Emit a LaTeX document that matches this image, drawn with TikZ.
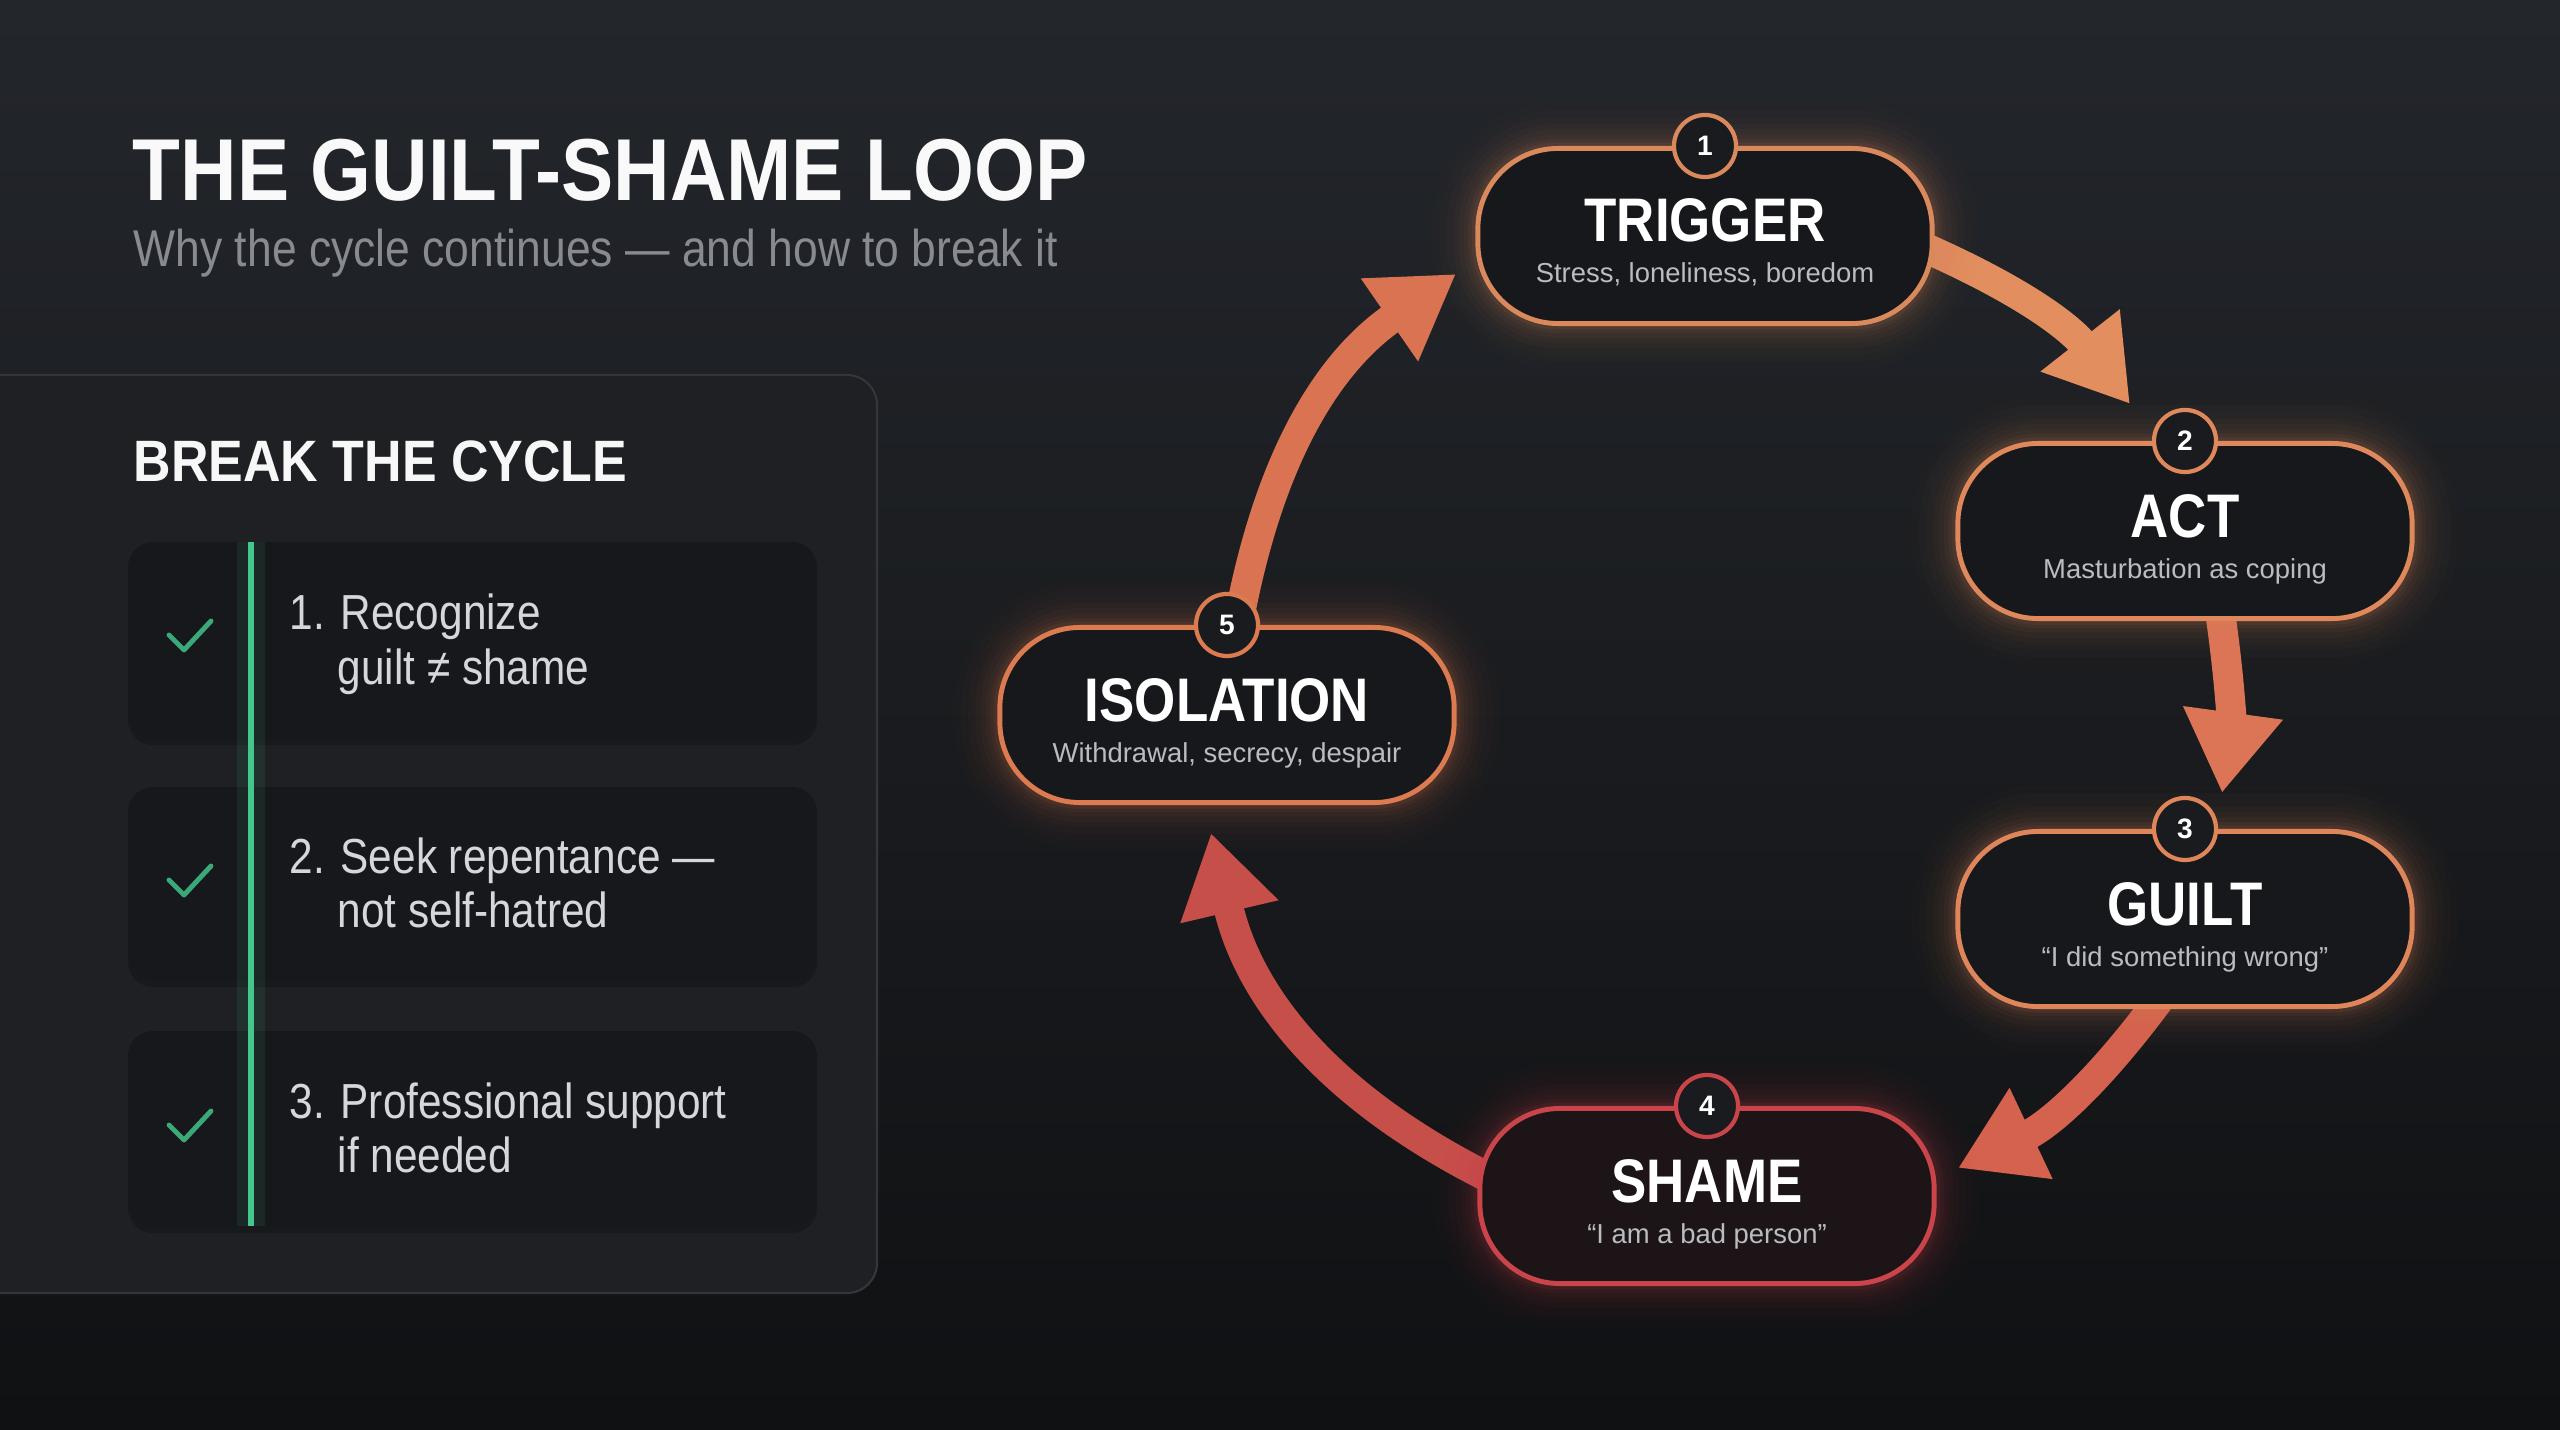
\documentclass[tikz,border=0pt]{standalone}
\usepackage{fontspec}
\setmainfont{Liberation Sans}
\newfontfamily\condfont{Liberation Sans}[FakeStretch=0.86]
\newfontfamily\headfont{Liberation Sans}[FakeStretch=0.89]
\usetikzlibrary{arrows.meta,calc,shadows}
\definecolor{bgtop}{HTML}{23262B}
\definecolor{bgbot}{HTML}{101113}
\definecolor{panelbg}{HTML}{1E2024}
\definecolor{panelline}{HTML}{33363B}
\definecolor{cardbg}{HTML}{17181B}
\definecolor{nodebg}{HTML}{17181B}
\definecolor{shamebg}{HTML}{1C1416}
\definecolor{badgebg}{HTML}{1A1B1E}
\definecolor{subgray}{HTML}{B9BCC0}
\definecolor{titlegray}{HTML}{878A8F}
\definecolor{itemtext}{HTML}{D5D7DA}
\definecolor{green}{HTML}{44C78C}
\definecolor{checkgreen}{HTML}{3AA878}
\definecolor{cTrig}{HTML}{DA895D}
\definecolor{cAct}{HTML}{DE885B}
\definecolor{cGuilt}{HTML}{DE855A}
\definecolor{cShame}{HTML}{C9454A}
\definecolor{cIso}{HTML}{DC7A50}
\definecolor{aOne}{HTML}{E38E5F}
\definecolor{aTwo}{HTML}{DB7555}
\definecolor{aThree}{HTML}{D4624E}
\definecolor{aFour}{HTML}{C65049}
\definecolor{aFive}{HTML}{D97352}
\pgfdeclarelayer{back}
\pgfdeclarelayer{arrowlayer}
\pgfsetlayers{back,arrowlayer,main}
\begin{document}
\begin{tikzpicture}[x=0.01cm,y=0.01cm,
  pill/.style={rectangle, rounded corners=0.8cm, minimum width=4.54cm, minimum height=1.75cm,
    fill=nodebg, draw=#1, line width=1.4pt,
    preaction={draw=#1, line width=26pt, draw opacity=0.015},
    preaction={draw=#1, line width=22pt, draw opacity=0.02},
    preaction={draw=#1, line width=18pt, draw opacity=0.025},
    preaction={draw=#1, line width=14pt, draw opacity=0.03},
    preaction={draw=#1, line width=11pt, draw opacity=0.035},
    preaction={draw=#1, line width=8pt, draw opacity=0.045},
    preaction={draw=#1, line width=5.5pt, draw opacity=0.06},
    preaction={draw=#1, line width=3.5pt, draw opacity=0.08}},
  ntitle/.style={anchor=base, inner sep=0, text=white, font=\condfont\bfseries\fontsize{17.5}{20}\selectfont},
  nsub/.style={anchor=base, inner sep=0, text=subgray, font=\fontsize{7.8}{9}\selectfont},
  badge/.style={circle, minimum size=0.62cm, inner sep=0, fill=badgebg, draw=#1, line width=1.2pt,
    text=white, font=\bfseries\fontsize{8}{9}\selectfont},
  arr/.style={draw=#1, line width=8.5pt, -{Triangle[length=23pt,width=27pt]}, shorten <=-3pt},
  card/.style={fill=cardbg, rounded corners=0.25cm,
    drop shadow={shadow xshift=0pt, shadow yshift=-2pt, opacity=0.2, fill=black}},
  itm/.style={anchor=base west, inner sep=0, text=itemtext, font=\condfont\fontsize{14}{16}\selectfont},
  check/.style={draw=checkgreen, line width=1.4pt, line cap=round, line join=round}
]
\useasboundingbox (0,0) rectangle (2560,1429);
\begin{pgfonlayer}{back}
  \shade[top color=bgtop, bottom color=bgbot] (0,0) rectangle (2560,1429);
\end{pgfonlayer}

% header
\node[anchor=base west, inner sep=0, text=white!95!gray, font=\headfont\bfseries\fontsize{25}{30}\selectfont] (title) at (132,1228) {THE GUILT-SHAME LOOP};
\node[anchor=base west, inner sep=0, text=titlegray, font=\condfont\fontsize{14.7}{17}\selectfont] (subtitle) at (133,1162) {Why the cycle continues — and how to break it};

% left panel
\draw[fill=panelbg, draw=panelline, line width=0.6pt, rounded corners=0.3cm] (-60,136) rectangle (877,1054);
\node[anchor=base west, inner sep=0, text=white!94!gray, font=\headfont\bfseries\fontsize{16.6}{19}\selectfont] (break) at (133,948) {BREAK THE CYCLE};

\fill[card] (128,691) rectangle (817,887);
\fill[card] (128,449) rectangle (817,642);
\fill[card] (128,203) rectangle (817,398);

\draw[green, line width=8pt, opacity=0.10] (251,887) -- (251,203);
\draw[green, line width=1.5pt] (251,887) -- (251,203);

\draw[check] (169,794) -- (184,779) -- (211,808);
\draw[check] (169,549) -- (184,534) -- (211,563);
\draw[check] (169,304) -- (184,289) -- (211,318);

\node[itm] (i1a) at (289,800) {1. Recognize};
\node[itm] (i1b) at (337,745) {guilt ≠ shame};
\node[itm] (i2a) at (289,556) {2. Seek repentance —};
\node[itm] (i2b) at (337,502) {not self-hatred};
\node[itm] (i3a) at (289,311) {3. Professional support};
\node[itm] (i3b) at (337,257) {if needed};

% cycle nodes
\node[pill=cTrig] (trig) at (1705,1193) {};
\node[pill=cAct] (act) at (2185,898) {};
\node[pill=cGuilt] (guilt) at (2185,510) {};
\node[pill=cShame, fill=shamebg] (shame) at (1707,233) {};
\node[pill=cIso] (iso) at (1227,714) {};

\node[ntitle] (trigT) at ($(trig)+(0,-6)$) {TRIGGER};
\node[nsub] (trigS) at ($(trig)+(0,-47)$) {Stress, loneliness, boredom};
\node[ntitle] (actT) at ($(act)+(0,-6)$) {ACT};
\node[nsub] (actS) at ($(act)+(0,-47)$) {Masturbation as coping};
\node[ntitle] (guiltT) at ($(guilt)+(0,-6)$) {GUILT};
\node[nsub] (guiltS) at ($(guilt)+(0,-47)$) {“I did something wrong”};
\node[ntitle] (shameT) at ($(shame)+(0,-6)$) {SHAME};
\node[nsub] (shameS) at ($(shame)+(0,-47)$) {“I am a bad person”};
\node[ntitle] (isoT) at ($(iso)+(0,-6)$) {ISOLATION};
\node[nsub] (isoS) at ($(iso)+(0,-47)$) {Withdrawal, secrecy, despair};

\node[badge=cTrig] (b1) at (trig.north) {1};
\node[badge=cAct] (b2) at (act.north) {2};
\node[badge=cGuilt] (b3) at (guilt.north) {3};
\node[badge=cShame] (b4) at (shame.north) {4};
\node[badge=cIso] (b5) at (iso.north) {5};

\coordinate (tip1) at (2130,1025);
\coordinate (tip2) at (2222,636);
\coordinate (tip3) at (1958,261);
\coordinate (tip4) at (1211,596);
\coordinate (tip5) at (1456,1155);

\begin{pgfonlayer}{arrowlayer}
  \draw[arr=aOne] (trig.-4) to[bend left=14] (tip1);
  \draw[arr=aTwo] (act.-68) to[bend left=8] (tip2);
  \draw[arr=aThree] (guilt.-110) to[bend left=14] (tip3);
  \draw[arr=aFour] (shame.174) to[bend left=25] (tip4);
  \draw[arr=aFive] (b5.60) to[bend left=22] (tip5);
\end{pgfonlayer}
\end{tikzpicture}
\end{document}
